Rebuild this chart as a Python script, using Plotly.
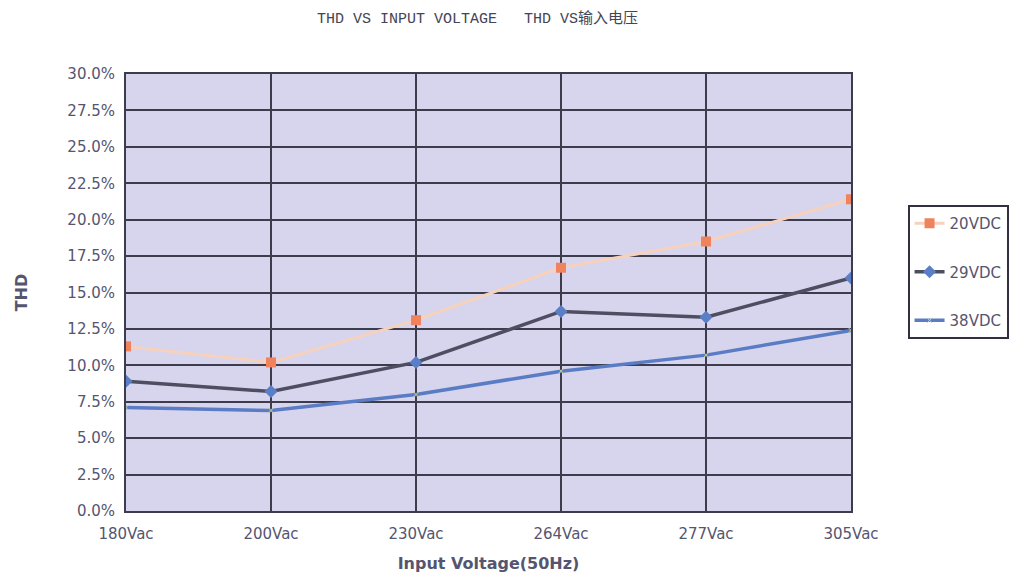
import plotly.graph_objects as go

categories = ["180Vac", "200Vac", "230Vac", "264Vac", "277Vac", "305Vac"]
thd_20vdc = [11.3, 10.2, 13.1, 16.7, 18.5, 21.4]
thd_29vdc = [8.9, 8.2, 10.2, 13.7, 13.3, 16.0]
thd_38vdc = [7.1, 6.9, 8.0, 9.6, 10.7, 12.4]
y_ticks = [i * 2.5 for i in range(13)]
y_tick_labels = [f"{v:.1f}%" for v in y_ticks]

fig = go.Figure()
fig.add_trace(go.Scatter(x=categories, y=thd_20vdc, name="20VDC", mode="lines+markers", legendgroup="a",
                         line=dict(color="#f6d2bc", width=3),
                         marker=dict(symbol="square", size=10, color="#f0835e")))
fig.add_trace(go.Scatter(x=categories, y=thd_29vdc, name="29VDC", mode="lines+markers", legendgroup="b",
                         line=dict(color="#4e4e62", width=3.5),
                         marker=dict(symbol="diamond", size=10, color="#5b7fc6")))
fig.add_trace(go.Scatter(x=categories, y=thd_38vdc, name="38VDC", mode="lines+markers", legendgroup="c",
                         line=dict(color="#5a7cc4", width=3.5),
                         marker=dict(symbol="x-thin", size=5, color="#d8d890", line=dict(width=1, color="#c8d080"))))

fig.update_layout(
    width=1032, height=575,
    paper_bgcolor="white", plot_bgcolor="#d7d4ed",
    margin=dict(l=115, r=189, t=66, b=72),
    title=dict(text="THD VS INPUT VOLTAGE   THD VS输入电压", x=0.455, xanchor="center", y=0.992, yanchor="top",
               font=dict(family="Liberation Mono, Noto Sans CJK SC", size=15, color="#444455")),
    font=dict(family="DejaVu Sans", color="#555570"),
    showlegend=True,
    legend=dict(x=1.078, y=0.70, xanchor="left", yanchor="top",
                bordercolor="#303040", borderwidth=2, bgcolor="white",
                font=dict(size=15, color="#555570"), itemwidth=30,
                tracegroupgap=26),
    xaxis=dict(type="category", range=[0, 5], showgrid=True, gridcolor="#3c3c4c", gridwidth=2,
               showline=True, linecolor="#3c3c4c", linewidth=2, mirror=True,
               tickfont=dict(size=15, color="#555570"), ticks="", ticklabelstandoff=8,
               title=dict(text="<b>Input Voltage(50Hz)</b>", font=dict(size=16, color="#555570"), standoff=16)),
    yaxis=dict(range=[0, 30], tickvals=y_ticks, ticktext=y_tick_labels,
               showgrid=True, gridcolor="#3c3c4c", gridwidth=2,
               showline=True, linecolor="#3c3c4c", linewidth=2, mirror=True, zeroline=False,
               tickfont=dict(size=15, color="#555570"), ticks="", ticklabelstandoff=6,
               title=dict(text="<b>THD</b>", font=dict(size=16, color="#555570"), standoff=36)),
)

fig.write_html("out.html")
